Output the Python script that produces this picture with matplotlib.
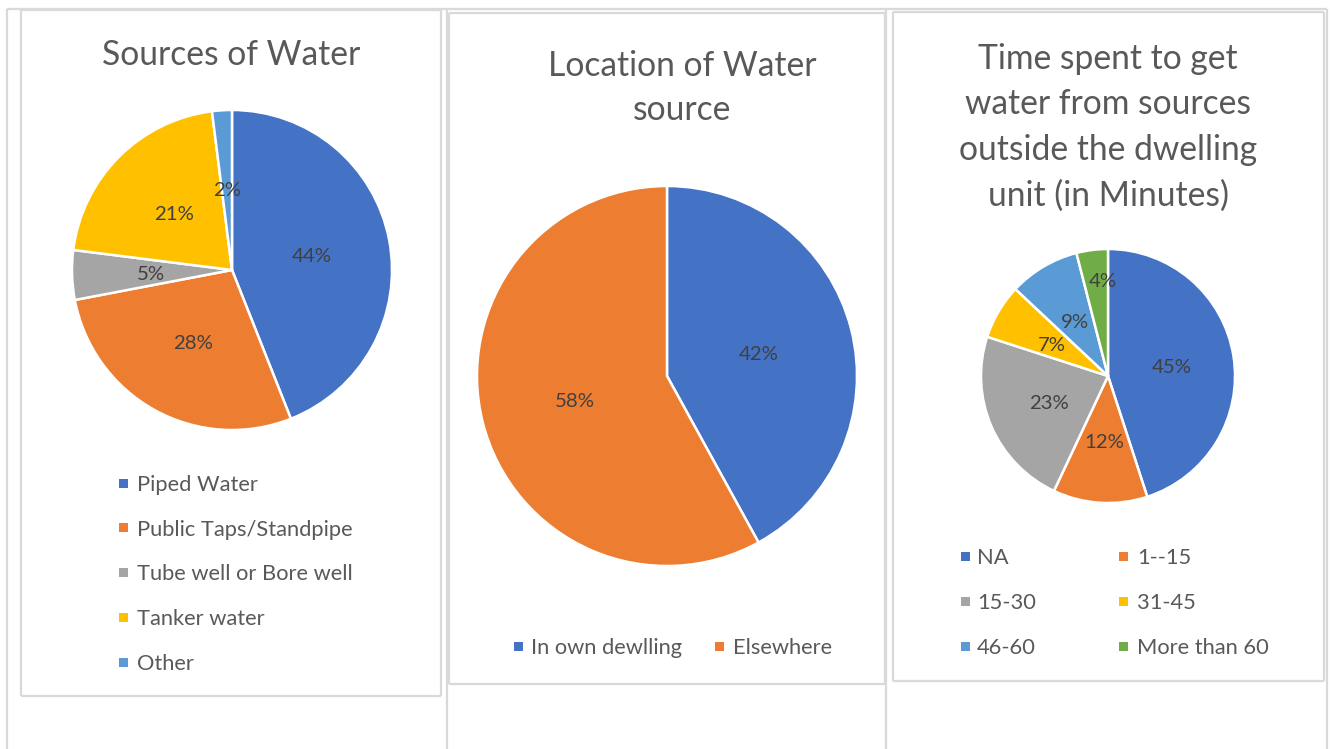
import numpy as np
import matplotlib
matplotlib.use("Agg")
import matplotlib.pyplot as plt
from matplotlib.lines import Line2D
from matplotlib.patches import Rectangle

# ---------------- data ----------------
title1 = "Sources of Water"
labels1 = ["Piped Water", "Public Taps/Standpipe", "Tube well or Bore well", "Tanker water", "Other"]
values1 = [44, 28, 5, 21, 2]

title2 = "Location of Water\nsource"
labels2 = ["In own dewlling", "Elsewhere"]
values2 = [42, 58]

title3 = "Time spent to get\nwater from sources\noutside the dwelling\nunit (in Minutes)"
labels3 = ["NA", "1--15", "15-30", "31-45", "46-60", "More than 60"]
values3 = [45, 12, 23, 7, 9, 4]

colors = ["#4472C4", "#ED7D31", "#A5A5A5", "#FFC000", "#5B9BD5", "#70AD47"]

# ---------------- layout ----------------
W, H = 1330, 749
fig = plt.figure(figsize=(W / 100, H / 100), dpi=100)
FAMILY = ["Lato", "DejaVu Sans"]
GRID = "#d9d9d9"
TOFF = 2  # small downward text offset (px)


def fx(x):
    return x / W


def fy(y):
    return 1 - y / H


def hline(x0, x1, y, lw=1.6):
    fig.add_artist(Line2D([fx(x0), fx(x1)], [fy(y), fy(y)], color=GRID, lw=lw,
                          transform=fig.transFigure, solid_capstyle="butt"))


def vline(x, y0, y1, lw=1.6):
    fig.add_artist(Line2D([fx(x), fx(x)], [fy(y0), fy(y1)], color=GRID, lw=lw,
                          transform=fig.transFigure, solid_capstyle="butt"))


def box(x0, y0, x1, y1, lw=1.6):
    hline(x0, x1, y0, lw); hline(x0, x1, y1, lw)
    vline(x0, y0, y1, lw); vline(x1, y0, y1, lw)


# table lines
hline(7, 1327, 9)
for xv in (7, 447, 886, 1327):
    vline(xv, 9, 749)
# chart borders
box(21, 10, 441, 696)
box(449, 12.5, 885, 684)
box(893, 12, 1324, 681)

renderer = fig.canvas.get_renderer()


def fit_size(text, target_px, base=20):
    t = fig.text(0, 0, text, fontsize=base, family=FAMILY)
    w = t.get_window_extent(renderer).width
    t.remove()
    return base * target_px / w


TITLE_FS = fit_size("Sources of Water", 259)
LABEL_FS = fit_size("44%", 40)
LEG_FS = fit_size("Public Taps/Standpipe", 216)


def draw_pie(values, cx, cy, r, pctdist=0.51):
    side = 2.5 * r
    ax = fig.add_axes([fx(cx - side / 2), fy(cy + side / 2), side / W, side / H])
    wedges, texts, autotexts = ax.pie(
        values, colors=colors[:len(values)], startangle=90, counterclock=False,
        autopct=lambda p: f"{p:.0f}%", pctdistance=pctdist,
        wedgeprops=dict(edgecolor="white", linewidth=1.8),
        textprops=dict(color="#404040", fontsize=LABEL_FS, family=FAMILY))
    ax.set_xlim(-1.25, 1.25)
    ax.set_ylim(-1.25, 1.25)
    for t in autotexts:
        x, y = t.get_position()
        t.set_position((x, y - TOFF / r))
    return ax, wedges, autotexts


def draw_title(text, cx, ys):
    for line, yv in zip(text.split("\n"), ys):
        fig.text(fx(cx), fy(yv + TOFF), line, ha="center", va="center",
                 fontsize=TITLE_FS, color="#595959", family=FAMILY)


def draw_legend(labels, wedges, xs_marker, xs_text, ys):
    for lab, w, xm, xt, yv in zip(labels, wedges, xs_marker, xs_text, ys):
        s = 9
        fig.add_artist(Rectangle((fx(xm - s / 2), fy(yv + s / 2)), s / W, s / H,
                                 facecolor=w.get_facecolor(), edgecolor="none",
                                 transform=fig.transFigure))
        fig.text(fx(xt), fy(yv + TOFF), lab, ha="left", va="center",
                 fontsize=LEG_FS, color="#595959", family=FAMILY)


# ---- chart 1 ----
draw_title(title1, 231, [53])
ax1, w1, a1 = draw_pie(values1, 232, 270, 160)
n1 = len(labels1)
draw_legend(labels1, w1, [123] * n1, [137] * n1, [483 + 44.75 * i for i in range(n1)])

# ---- chart 2 ----
draw_title(title2, 682, [64, 108])
ax2, w2, a2 = draw_pie(values2, 667, 376, 190, pctdist=0.5)
draw_legend(labels2, w2, [518, 719], [531, 733], [646, 646])

# ---- chart 3 ----
draw_title(title3, 1108, [57, 102, 148, 194])
ax3, w3, a3 = draw_pie(values3, 1108, 376, 127)
# last small slice label pushed outward like the original
wl = w3[-1]
ang = np.deg2rad(0.5 * (wl.theta1 + wl.theta2) - 4)
a3[-1].set_position((0.76 * np.cos(ang), 0.76 * np.sin(ang) - TOFF / 127))
draw_legend(labels3, w3, [965, 1123, 965, 1123, 965, 1123],
            [977, 1137, 977, 1137, 977, 1137], [556, 556, 601, 601, 646, 646])

fig.savefig("out.png", dpi=100, facecolor="white")
